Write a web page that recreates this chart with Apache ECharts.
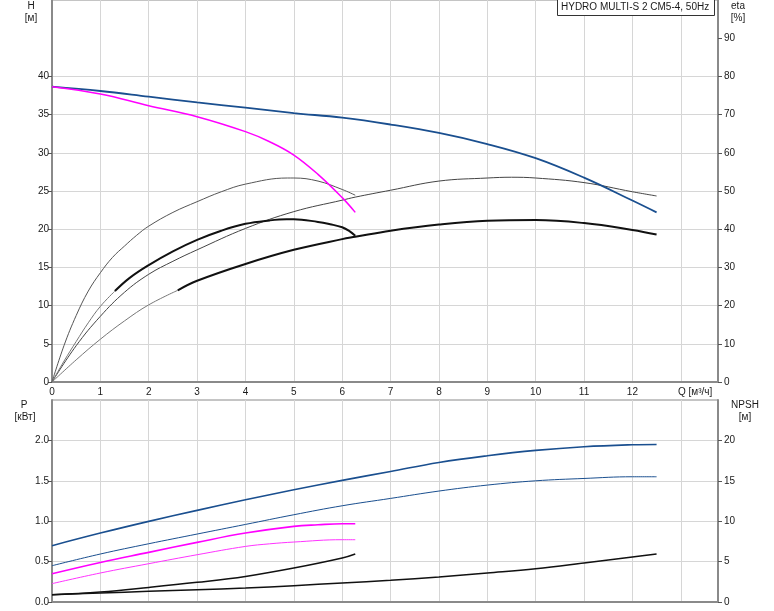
<!DOCTYPE html>
<html>
<head>
<meta charset="utf-8">
<script src="https://cdn.jsdelivr.net/npm/echarts@6/dist/echarts.min.js"></script>
<style>
html,body{margin:0;padding:0;background:#fff;}
#chart{width:774px;height:611px;}
</style>
</head>
<body>
<div id="chart"></div>
<script>
// ---- Data ----
// Head curves H [m]
const qBlueH = [0,1,2,3,4,5,6,7,8,9,10,11,12,12.5];
const hBlue  = [38.65,38.09,37.35,36.6,35.9,35.2,34.6,33.7,32.6,31.15,29.3,26.75,23.75,22.2];
const qMagH  = [0,1,2,3,4,4.5,5,5.5,6,6.27];
const hMag   = [38.65,37.7,36.17,34.73,32.77,31.45,29.71,27.18,24.13,22.2];

// Efficiency curves eta [%]
const qEtaA  = [0,0.25,0.5,0.75,1,1.25,1.5,1.75,2,2.5,3,3.5,4,4.87,5,5.5,6,6.27];
const etaA   = [0,9.6,17.4,23.8,28.6,32.6,35.6,38.4,40.8,44.4,47.2,49.8,51.8,53.4,53.4,52.6,50.4,48.9];
const qEtaBThin = [0,0.25,0.5,0.75,1,1.3];
const etaBThin  = [0,5.5,10.6,15.5,19.8,23.8];
const qEtaB  = [1.3,1.6,2,2.5,3,3.5,4,4.5,4.85,5,5.5,5.75,6,6.15,6.27];
const etaB   = [23.8,27.2,30.6,34.2,37.2,39.6,41.4,42.3,42.6,42.6,41.9,41.3,40.5,39.5,38.3];
const qEtaC  = [0,0.5,1,1.5,2,2.5,3,4,5,6,6.27,7,8,9,9.5,10,11,12,12.5];
const etaC   = [0,9.5,17.2,23.5,28.2,31.6,34.6,40.2,44.6,47.6,48.4,50.2,52.6,53.4,53.6,53.4,52.2,49.8,48.7];
const qEtaDThin = [0,0.5,1,1.5,2,2.6];
const etaDThin  = [0,5.8,11.2,16,20.2,24];
const qEtaD  = [2.6,3,4,5,6,6.27,7,8,9,10,11,12,12.5];
const etaD   = [24,26.5,30.9,34.6,37.4,38.0,39.6,41.2,42.2,42.4,41.6,39.8,38.6];

// Power curves P [kW]
const qP1Blue = [0,1,2,3,4,5,6,7,8,9,10,11,12,12.5];
const p1Blue  = [0.697,0.853,0.998,1.134,1.265,1.389,1.505,1.616,1.727,1.81,1.876,1.921,1.946,1.95];
const qP2Blue = [0,1,2,3,4,5,6,7,8,9,10,11,12,12.5];
const p2Blue  = [0.449,0.594,0.721,0.841,0.96,1.08,1.191,1.282,1.373,1.447,1.5,1.529,1.55,1.55];
const qP1Mag  = [0,1,2,3,4,5,5.5,6,6.27];
const p1Mag   = [0.35,0.49,0.614,0.738,0.853,0.936,0.956,0.969,0.969];
const qP2Mag  = [0,1,2,3,4,4.5,5,6,6.27];
const p2Mag   = [0.227,0.359,0.474,0.585,0.688,0.72,0.742,0.771,0.771];

// NPSH curves [m]
const qNpshShort = [0,1,2,3,4,5,6,6.27];
const npshShort  = [0.91,1.24,1.8,2.43,3.17,4.2,5.44,5.94];
const qNpshLong  = [0,1,2,3,4,5,6,7,8,9,10,11,12,12.5];
const npshLong   = [0.91,1.11,1.32,1.52,1.73,2.02,2.35,2.68,3.09,3.59,4.12,4.82,5.56,5.94];

// Tick label values
const hTicks    = [0,5,10,15,20,25,30,35,40];
const etaTicks  = [0,10,20,30,40,50,60,70,80,90];
const pTicks    = [0,0.5,1,1.5,2];
const npshTicks = [0,5,10,15,20];
const qTicks    = [0,1,2,3,4,5,6,7,8,9,10,11,12];

// Texts
const titleText = 'HYDRO MULTI-S 2 CM5-4, 50Hz';
const qName = 'Q [м³/ч]';

// ---- Chart ----
const FONT = 'Liberation Sans, Arial, sans-serif';
const BLUE = '#1a4f8f';
const MAG = '#ff00ff';
const GRIDC = '#d6d6d6';
const AXC = '#8a8a8a';
const TXT = '#1a1a1a';

function pts(xs, ys){ return xs.map((x,i)=>[x, ys[i]]); }

function line(name, xs, ys, color, width, xi, yi){
  return {
    name, type:'line', xAxisIndex:xi, yAxisIndex:yi,
    data: pts(xs, ys), showSymbol:false, symbol:'none',
    smooth:0.4,
    lineStyle:{color, width}, itemStyle:{color},
    z: 3, silent:true
  };
}

function xAx(grid, showLabel){
  return {
    type:'value', gridIndex:grid, min:0, max:13.77, interval:1,
    axisLine:{show:true, onZero:false, lineStyle:{color:AXC, width:2}},
    axisTick:{show:false},
    splitLine:{show:true, lineStyle:{color:GRIDC, width:1}},
    axisLabel:{show:showLabel, margin:5, fontSize:10, fontFamily:FONT, color:TXT,
      customValues: qTicks, formatter:v => String(v)}
  };
}
function yAx(grid, pos, max, interval, ticks, fmt){
  return {
    type:'value', gridIndex:grid, position:pos, min:0, max, interval,
    axisLine:{show:true, onZero:false, lineStyle:{color:AXC, width:2}},
    axisTick:{show:true, length:4, customValues:ticks, lineStyle:{color:'#555'}},
    splitLine:{show:pos==='left', lineStyle:{color:GRIDC, width:1}},
    axisLabel:{margin:pos==='left'?3:6, fontSize:10, fontFamily:FONT, color:TXT,
      customValues:ticks, formatter:fmt}
  };
}

const chart = echarts.init(document.getElementById('chart'), null, {renderer:'canvas'});

const lastLabel = (arr, txt, pos) => {
  const d = arr.slice();
  const l = d[d.length-1];
  d[d.length-1] = {value:l, label:{show:true, formatter:txt, position:pos, distance:2,
    color:BLUE, fontSize:10, fontFamily:FONT}};
  return d;
};

const p1Series = line('P1', qP1Blue, p1Blue, BLUE, 1.6, 1, 2);
p1Series.data = lastLabel(p1Series.data, 'P1', 'top');
const p2Series = line('P2', qP2Blue, p2Blue, BLUE, 1, 1, 2);
p2Series.data = lastLabel(p2Series.data, 'P2', 'bottom');

const option = {
  animation:false,
  backgroundColor:'#ffffff',
  textStyle:{fontFamily:FONT},
  title:{
    text:titleText, left:557, top:-2,
    padding:[3,6,2,4], borderColor:'#333', borderWidth:1, backgroundColor:'#fff',
    textStyle:{fontSize:10, fontWeight:'normal', color:TXT, fontFamily:FONT, lineHeight:13}
  },
  grid:[
    {left:52, top:0, width:666, height:382, show:true, borderColor:AXC, borderWidth:1, backgroundColor:'transparent'},
    {left:52, top:400, width:666, height:202, show:true, borderColor:AXC, borderWidth:1, backgroundColor:'transparent'}
  ],
  xAxis:[ xAx(0,true), xAx(1,false) ],
  yAxis:[
    yAx(0,'left',50,5,hTicks, v=>String(v)),
    yAx(0,'right',100,10,etaTicks, v=>String(v)),
    yAx(1,'left',2.5,0.5,pTicks, v=>Number(v).toFixed(1)),
    yAx(1,'right',25,5,npshTicks, v=>String(v))
  ],
  graphic:[
    {type:'text', style:{text:'H', x:31, y:6, textAlign:'center', textVerticalAlign:'middle', fontSize:10, fontFamily:FONT, fill:TXT}},
    {type:'text', style:{text:'[м]', x:31, y:18, textAlign:'center', textVerticalAlign:'middle', fontSize:10, fontFamily:FONT, fill:TXT}},
    {type:'text', style:{text:'eta', x:738, y:6, textAlign:'center', textVerticalAlign:'middle', fontSize:10, fontFamily:FONT, fill:TXT}},
    {type:'text', style:{text:'[%]', x:738, y:18, textAlign:'center', textVerticalAlign:'middle', fontSize:10, fontFamily:FONT, fill:TXT}},
    {type:'text', style:{text:'P', x:24, y:405, textAlign:'center', textVerticalAlign:'middle', fontSize:10, fontFamily:FONT, fill:TXT}},
    {type:'text', style:{text:'[кВт]', x:25, y:417, textAlign:'center', textVerticalAlign:'middle', fontSize:10, fontFamily:FONT, fill:TXT}},
    {type:'text', style:{text:'NPSH', x:745, y:405, textAlign:'center', textVerticalAlign:'middle', fontSize:10, fontFamily:FONT, fill:TXT}},
    {type:'text', style:{text:'[м]', x:745, y:417, textAlign:'center', textVerticalAlign:'middle', fontSize:10, fontFamily:FONT, fill:TXT}},
    {type:'text', style:{text:qName, x:678, y:392, textAlign:'left', textVerticalAlign:'middle', fontSize:10, fontFamily:FONT, fill:TXT}}
  ],
  series:[
    line('etaA', qEtaA, etaA, '#555', 1, 0, 1),
    line('etaC', qEtaC, etaC, '#444', 1, 0, 1),
    line('etaBThin', qEtaBThin, etaBThin, '#777', 1, 0, 1),
    line('etaB', qEtaB, etaB, '#111', 2, 0, 1),
    line('etaDThin', qEtaDThin, etaDThin, '#777', 1, 0, 1),
    line('etaD', qEtaD, etaD, '#111', 2, 0, 1),
    line('H2', qBlueH, hBlue, BLUE, 1.8, 0, 0),
    line('H1', qMagH, hMag, MAG, 1.5, 0, 0),
    p1Series, p2Series,
    line('P1single', qP1Mag, p1Mag, MAG, 1.6, 1, 2),
    line('P2single', qP2Mag, p2Mag, '#ff33ff', 1, 1, 2),
    line('NPSHshort', qNpshShort, npshShort, '#111', 1.5, 1, 3),
    line('NPSHlong', qNpshLong, npshLong, '#111', 1.5, 1, 3)
  ]
};
chart.setOption(option);
</script>
</body>
</html>
